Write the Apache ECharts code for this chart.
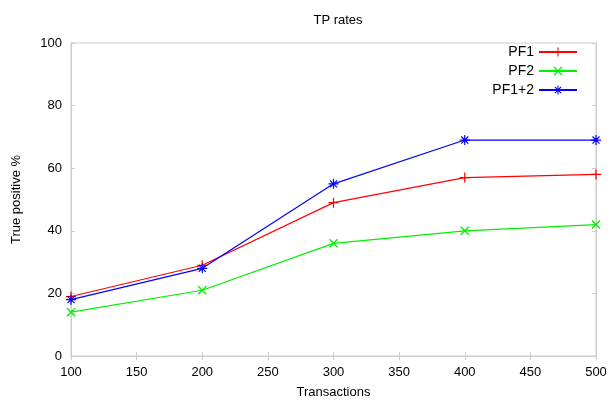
<!DOCTYPE html>
<html><head><meta charset="utf-8">
<script src="https://cdn.jsdelivr.net/npm/echarts@6/dist/echarts.min.js"></script>
<style>html,body{margin:0;padding:0;background:#fff}#c{width:611px;height:407px}</style>
</head><body><div id="c"></div>
<script>
const transactions = [100, 200, 300, 400, 500];
const pf1 = [19, 29, 49, 57, 58];
const pf2 = [14, 21, 36, 40, 42];
const pf12 = [18, 28, 55, 69, 69];
const seriesNames = ['PF1', 'PF2', 'PF1+2'];

const PLUS = 'M-0.6,-5H0.6V-0.6H5V0.6H0.6V5H-0.6V0.6H-5V-0.6H-0.6Z';
const XS = 'M-3.12,-3.96L3.96,3.12L3.12,3.96L-3.96,-3.12Z M3.96,-3.12L-3.12,3.96L-3.96,3.12L3.12,-3.96Z';
const symbols = ['path://' + PLUS, 'path://' + XS, 'path://' + PLUS + ' ' + XS];
const colors = ['#ff0000', '#00f000', '#0000ff'];
const sizes = [10, 9, 10];
const values = [pf1, pf2, pf12];

const font = 'Liberation Sans';
const gridCol = '#cccccc';
const chart = echarts.init(document.getElementById('c'), null, {renderer: 'canvas'});
const axisCommon = {
  axisLine: {show: true, lineStyle: {color: gridCol, width: 1}},
  axisTick: {show: true, inside: true, length: 4, lineStyle: {color: gridCol}},
  splitLine: {show: false},
};
chart.setOption({
  animation: false,
  backgroundColor: '#fff',
  title: {text: 'TP rates', left: 333, top: 9, textAlign: 'center',
    textStyle: {fontFamily: font, fontSize: 13, fontWeight: 'normal', color: '#000'}},
  grid: {left: 71, right: 15, top: 43, bottom: 51, show: true, borderColor: gridCol, borderWidth: 1},
  legend: {
    orient: 'vertical', right: 33, top: 45, align: 'right', padding: 0,
    itemWidth: 38, itemHeight: 11, itemGap: 5,
    textStyle: {fontFamily: font, fontSize: 14, color: '#000'},
    data: seriesNames
  },
  xAxis: [
    Object.assign({type: 'value', min: 100, max: 500, interval: 50, position: 'bottom',
      name: 'Transactions', nameLocation: 'middle', nameGap: 30,
      nameTextStyle: {fontFamily: font, fontSize: 13, color: '#000'},
      axisLabel: {fontFamily: font, fontSize: 13, color: '#000', margin: 10}}, axisCommon),
    Object.assign({type: 'value', min: 100, max: 500, interval: 50, position: 'top',
      axisLabel: {show: false}}, axisCommon)
  ],
  yAxis: [
    Object.assign({type: 'value', min: 0, max: 100, interval: 20, position: 'left',
      name: 'True positive %', nameLocation: 'middle', nameGap: 48, nameRotate: 90,
      nameTextStyle: {fontFamily: font, fontSize: 13, color: '#000'},
      axisLabel: {fontFamily: font, fontSize: 13, color: '#000', margin: 9}}, axisCommon),
    Object.assign({type: 'value', min: 0, max: 100, interval: 20, position: 'right',
      axisLabel: {show: false}}, axisCommon)
  ],
  series: seriesNames.map((n, i) => ({
    name: n, type: 'line',
    xAxisIndex: 0, yAxisIndex: 0,
    data: transactions.map((t, j) => [t, values[i][j]]),
    symbol: symbols[i], symbolSize: sizes[i], showSymbol: true,
    color: colors[i],
    lineStyle: {color: colors[i], width: 1.2},
    itemStyle: {color: colors[i]},
    emphasis: {disabled: true}
  }))
});
</script></body></html>
